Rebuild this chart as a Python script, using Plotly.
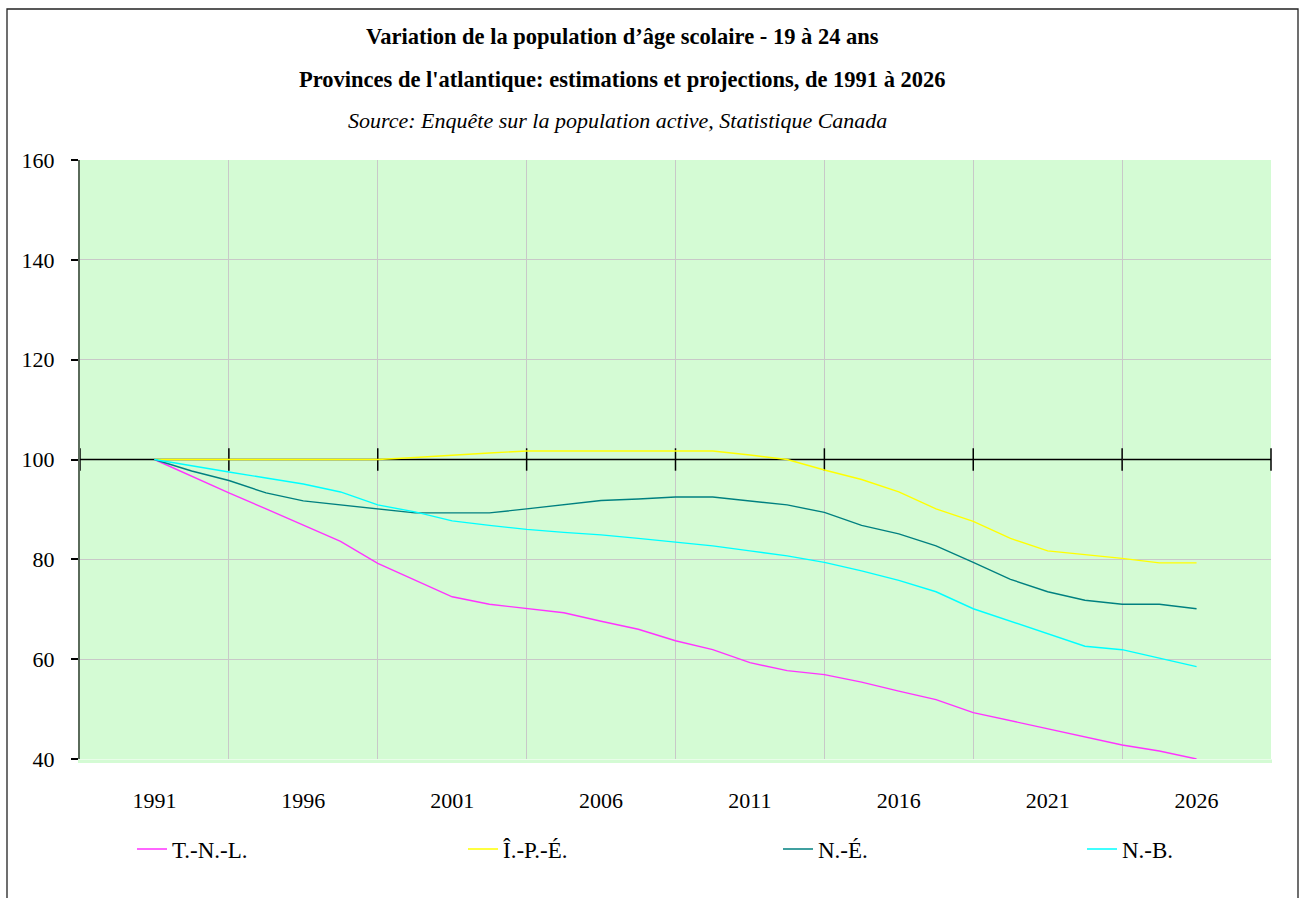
import plotly.graph_objects as go

# ---- data -------------------------------------------------------------
point_index = list(range(29))
tick_positions = [0, 4, 8, 12, 16, 20, 24, 28]
tick_labels = ["1991", "1996", "2001", "2006", "2011", "2016", "2021", "2026"]
grid_positions = [-2, 2, 6, 10, 14, 18, 22, 26, 30]

tnl = [100, 96.6, 93.3, 90.1, 86.8, 83.6, 79.2, 75.8, 72.5, 71.0, 70.1, 69.3, 67.6,
       66.0, 63.7, 61.9, 59.3, 57.7, 56.9, 55.4, 53.6, 51.9, 49.3, 47.7, 46.1, 44.4,
       42.8, 41.6, 40.0]
ipe = [100, 100, 100, 100, 100, 100, 100, 100.4, 100.9, 101.3, 101.7, 101.7, 101.7,
       101.7, 101.7, 101.7, 100.9, 100.0, 97.9, 96.0, 93.5, 90.1, 87.6, 84.2, 81.7,
       81.0, 80.2, 79.3, 79.3]
ne = [100, 97.7, 95.8, 93.3, 91.7, 90.9, 90.1, 89.3, 89.3, 89.3, 90.1, 90.9, 91.8,
      92.1, 92.5, 92.5, 91.7, 90.9, 89.4, 86.8, 85.1, 82.7, 79.4, 76.0, 73.5, 71.8,
      71.0, 71.0, 70.1]
nb = [100, 98.7, 97.5, 96.3, 95.1, 93.5, 90.9, 89.5, 87.7, 86.8, 86.0, 85.4, 84.9,
      84.2, 83.5, 82.7, 81.7, 80.7, 79.4, 77.7, 75.8, 73.5, 70.1, 67.6, 65.1, 62.6,
      61.9, 60.2, 58.5]

series_names = ["T.-N.-L.", "Î.-P.-É.", "N.-É.", "N.-B."]
series_values = [tnl, ipe, ne, nb]
series_colors = ["#FF33FF", "#FFFF00", "#008080", "#00FFFF"]

y_ticks = [40, 60, 80, 100, 120, 140, 160]
y_grid = [40, 60, 80, 120, 140, 160]
cross_value = 100

title_lines = [
    "<b>Variation de la population d’âge scolaire - 19 à 24 ans</b>",
    "<b>Provinces de l'atlantique: estimations et projections, de 1991 à 2026</b>",
    "<i>Source: Enquête sur la population active, Statistique Canada</i>",
]

# ---- layout helpers ---------------------------------------------------
W, H = 1303, 898
PL, PR, PT, PB = 80, 1271, 160, 759
FONT = "Liberation Serif"


def px(xp):
    return (xp - PL) / (PR - PL)


def py(yp):
    return (PB - yp) / (PB - PT)


fig = go.Figure()

# tick marks of the category axis crossing at 100
fig.add_trace(go.Scatter(
    x=grid_positions, y=[cross_value] * len(grid_positions), mode="markers",
    marker=dict(symbol="line-ns", size=16, line=dict(color="#000000", width=1.5)),
    showlegend=False, hoverinfo="skip", cliponaxis=False))

legend_ids = ["legend", "legend2", "legend3", "legend4"]
legend_x_px = [132, 463, 778, 1082]
legend_y_px = 849

for name, vals, col, lid in zip(series_names, series_values, series_colors, legend_ids):
    fig.add_trace(go.Scatter(x=point_index, y=vals, mode="lines", name=name,
                             line=dict(color=col, width=1.4), legend=lid))

legend_layout = {}
for lid, lx in zip(legend_ids, legend_x_px):
    legend_layout[lid] = dict(x=px(lx), y=py(legend_y_px), xanchor="left",
                              yanchor="middle", orientation="h",
                              font=dict(family=FONT, size=23, color="#000000"),
                              bgcolor="rgba(0,0,0,0)", borderwidth=0)

fig.update_layout(
    width=W, height=H,
    margin=dict(l=PL, r=W - PR, t=PT, b=H - PB, autoexpand=False),
    paper_bgcolor="white", plot_bgcolor="#D4FBD4",
    font=dict(family=FONT, color="#000000", size=22),
    showlegend=True,
    xaxis=dict(range=[-2, 30], tickmode="array", tickvals=tick_positions,
               ticktext=tick_labels, showgrid=False, zeroline=False, showline=False,
               ticks="", tickfont=dict(size=22), ticklabelstandoff=26,
               minor=dict(tickmode="array", tickvals=grid_positions, showgrid=True,
                          gridcolor="#C8C8C8", gridwidth=1, ticks="")),
    yaxis=dict(range=[40, 160], tickmode="array", tickvals=y_ticks,
               showgrid=False, zeroline=False,
               showline=True, linecolor="#5A6B5A", linewidth=2,
               ticks="outside", ticklen=7, tickwidth=1.5, tickcolor="#000000",
               tickfont=dict(size=22), ticklabelstandoff=12,
               minor=dict(tickmode="array", tickvals=y_grid, showgrid=True,
                          gridcolor="#C8C8C8", gridwidth=1, ticks="")),
    **legend_layout,
)

shapes = [
    # axis line crossing at 100
    dict(type="line", xref="paper", yref="y", x0=0, x1=1, y0=cross_value, y1=cross_value,
         line=dict(color="#000000", width=1.3), layer="between"),
    # green strip below the plot
    dict(type="rect", xref="paper", yref="paper", x0=px(78), x1=px(1272), y0=py(763),
         y1=py(759.5), fillcolor="#D4FBD4", line=dict(width=0), layer="below"),
    # outer frame
    dict(type="rect", xref="paper", yref="paper", x0=px(7), x1=px(1298), y0=py(930),
         y1=py(9), line=dict(color="#222222", width=1.3), fillcolor="rgba(0,0,0,0)"),
]
fig.update_layout(shapes=shapes)

title_y = [37, 79, 120]
title_x = [622, 622, 617]
title_sizes = [22.5, 22.5, 22]
for txt, xp, yp, fs in zip(title_lines, title_x, title_y, title_sizes):
    fig.add_annotation(text=txt, xref="paper", yref="paper", x=px(xp), y=py(yp),
                       xanchor="center", yanchor="middle", showarrow=False,
                       font=dict(family=FONT, size=fs, color="#000000"))

fig.write_html("out.html", config={"displayModeBar": False},
               post_script="document.body.style.margin='0';")
